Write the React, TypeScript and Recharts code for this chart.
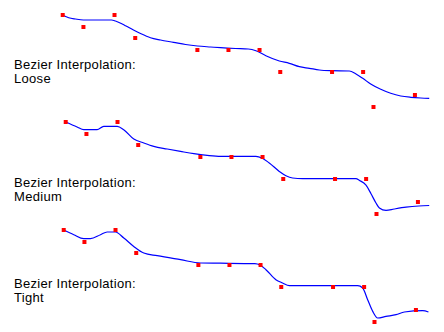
import React from "react";
import { ComposedChart, Line, Scatter, XAxis, YAxis } from "recharts";

// Shared sample positions (x units) and values
const pointX = [0, 2, 5, 7, 13, 16, 19, 21, 26, 29, 30, 34];
const pointY = [10.5, 9.3, 10.5, 8.2, 7.0, 7.0, 7.0, 4.8, 4.8, 4.8, 1.3, 2.5];

// Fitted curve: Loose
const looseX = [0, 0.58, 1.23, 2.0, 4.71, 5.09, 5.74, 6.06, 6.83, 7.51, 8.47, 9.44, 10.7, 11.86, 13.01, 14.27, 15.23, 16.68, 17.91, 18.65, 19.61, 20.91, 21.87, 22.84, 23.81, 24.77, 25.89, 27.67, 28.31, 28.96, 29.73, 30.7, 31.66, 32.63, 33.6, 34.56, 35.38];
const looseY = [10.47, 10.23, 10.1, 10.0, 10.0, 9.9, 9.6, 9.43, 9.0, 8.65, 8.23, 8.0, 7.77, 7.55, 7.4, 7.3, 7.23, 7.15, 7.1, 6.93, 6.43, 5.9, 5.67, 5.33, 5.17, 5.0, 4.93, 4.9, 4.6, 4.17, 3.6, 3.07, 2.67, 2.4, 2.27, 2.2, 2.17];

// Medium
const mediumX = [0, 1.1, 1.74, 3.03, 3.67, 4.97, 5.6, 6.57, 7.54, 8.5, 9.8, 11.08, 12.37, 13.66, 14.95, 18.36, 18.94, 19.65, 20.62, 21.26, 21.9, 22.87, 28.02, 28.35, 28.99, 29.47, 29.95, 30.28, 30.92, 31.71, 32.85, 34.08, 35.09];
const mediumY = [10.5, 10.0, 9.73, 9.73, 10.06, 10.06, 9.73, 8.8, 8.4, 8.06, 7.8, 7.56, 7.33, 7.16, 7.06, 7.06, 6.9, 6.4, 5.56, 5.13, 4.9, 4.83, 4.83, 4.66, 4.18, 3.33, 2.4, 1.9, 1.66, 1.8, 1.98, 2.1, 2.15];

// Tight
const tightX = [0, 0.97, 1.93, 2.58, 3.55, 4.19, 5.0, 5.8, 6.76, 7.73, 9.02, 11.28, 13.21, 15.14, 18.45, 18.94, 19.52, 20.48, 21.13, 21.78, 28.38, 28.86, 29.34, 29.83, 30.31, 31.11, 32.08, 32.89, 34.66, 35.21];
const tightY = [10.5, 10.03, 9.63, 9.63, 10.03, 10.3, 10.3, 9.7, 8.86, 8.2, 7.93, 7.53, 7.2, 7.18, 7.13, 7.0, 6.53, 5.53, 5.2, 4.93, 4.93, 4.7, 3.53, 2.36, 1.7, 1.86, 2.03, 2.3, 2.43, 2.3];

const labelLine1 = "Bezier Interpolation:";
const panelNames = ["Loose", "Medium", "Tight"];

const points = pointX.map((u, i) => ({ u, v: pointY[i] }));
const toCurve = (xs: number[], ys: number[]) => xs.map((u, i) => ({ u, v: ys[i] }));
const curves = [toCurve(looseX, looseY), toCurve(mediumX, mediumY), toCurve(tightX, tightY)];

const panels = [
  { left: 41.6, top: 0, labelY: 69 },
  { left: 44.6, top: 107.3, labelY: 187 },
  { left: 42.6, top: 215.3, labelY: 288 },
];

const Square = (props: any) => {
  const { cx, cy } = props;
  if (cx == null || cy == null) return null;
  return <rect x={cx - 2} y={cy - 2} width={4} height={4} fill="#ff0000" />;
};

export default function App() {
  return (
    <div
      style={{
        position: "absolute",
        left: 0,
        top: 0,
        width: 444,
        height: 332,
        overflow: "hidden",
        background: "#ffffff",
      }}
    >
      {panels.map((p, k) => (
        <div key={k} style={{ position: "absolute", left: p.left, top: p.top }}>
          <ComposedChart width={404} height={120} margin={{ top: 0, right: 0, bottom: 0, left: 0 }}>
            <XAxis type="number" dataKey="u" domain={[-2, 37]} hide allowDataOverflow />
            <YAxis type="number" dataKey="v" domain={[0, 12]} hide allowDataOverflow />
            <Line
              data={curves[k]}
              dataKey="v"
              type="monotone"
              stroke="#0000ff"
              strokeWidth={1.2}
              dot={false}
              activeDot={false}
              isAnimationActive={false}
            />
            <Scatter data={points} dataKey="v" shape={<Square />} isAnimationActive={false} />
          </ComposedChart>
        </div>
      ))}
      <svg
        width={444}
        height={332}
        style={{ position: "absolute", left: 0, top: 0, pointerEvents: "none" }}
      >
        {panels.map((p, k) => (
          <g key={k} fontFamily="'Liberation Sans', Arial, sans-serif" fontSize={13} fill="#000000" letterSpacing={0.3}>
            <text x={14} y={p.labelY}>{labelLine1}</text>
            <text x={14} y={p.labelY + 14}>{panelNames[k]}</text>
          </g>
        ))}
      </svg>
    </div>
  );
}
